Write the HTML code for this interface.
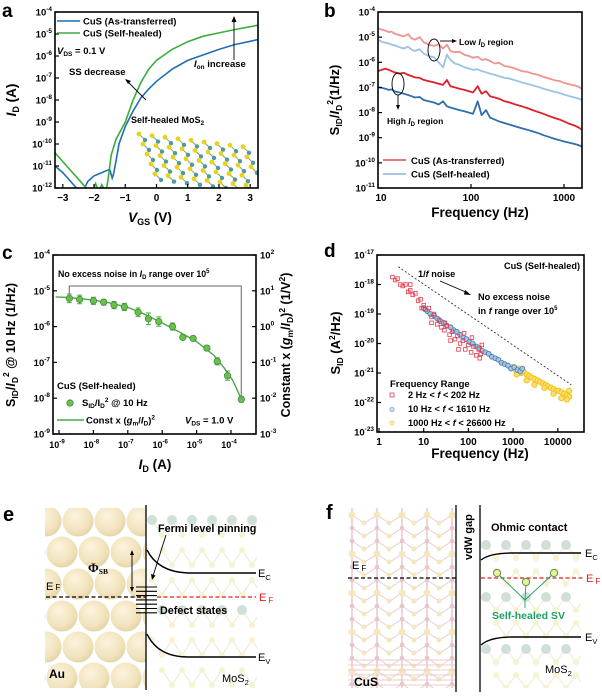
<!DOCTYPE html>
<html><head><meta charset="utf-8">
<style>
html,body{margin:0;padding:0;background:#fff;}
svg{display:block;font-family:"Liberation Sans",Arial,sans-serif;}
.t{font-weight:bold;fill:#000;}
</style></head>
<body>
<svg id="fig" width="602" height="698" viewBox="0 0 602 698" xmlns="http://www.w3.org/2000/svg">
<defs>
<clipPath id="clipA"><rect x="55" y="12" width="203" height="176"/></clipPath>
<clipPath id="clipB"><rect x="378" y="12" width="204" height="176"/></clipPath>
<clipPath id="clipC"><rect x="53" y="255" width="203" height="179"/></clipPath>
<clipPath id="clipD"><rect x="377" y="255" width="207" height="177"/></clipPath>
<clipPath id="clipAu"><rect x="45" y="508" width="101" height="180"/></clipPath>
<clipPath id="clipMe"><rect x="147" y="508" width="110" height="180"/></clipPath>
<clipPath id="clipCuS"><rect x="348" y="508" width="108" height="180"/></clipPath>
<clipPath id="clipMf"><rect x="481" y="508" width="100" height="180"/></clipPath>
<radialGradient id="auG" cx="0.4" cy="0.35" r="0.7"><stop offset="0" stop-color="#fbf1d6"/><stop offset="0.7" stop-color="#eedcab"/><stop offset="1" stop-color="#dcc68f"/></radialGradient>
</defs>

<text class="t" x="2" y="17" font-size="19">a</text>
<text class="t" x="324" y="17" font-size="19">b</text>
<text class="t" x="2" y="259" font-size="19">c</text>
<text class="t" x="324" y="257" font-size="19">d</text>
<text class="t" x="3" y="521" font-size="20">e</text>
<text class="t" x="326" y="519" font-size="20">f</text>

<g id="pa"></g>
<g id="pb"></g>
<g id="pc"></g>
<g id="pd"></g>
<g id="pe"></g>
<g id="pf"></g>
</svg>

<script>
// ---------- DATA ----------
const aBlueV = [-3.25,-3,-2.75,-2.5,-2.4,-2.2,-2.0,-1.75,-1.5,-1.42,-1.38,-1.3,-1.2,-1.0,-0.75,-0.5,-0.25,0,0.5,1,1.5,2,2.5,3,3.25];
const aBlueLogI = [-11,-11.3,-11.7,-12.1,-12.3,-11.7,-11.45,-11.3,-11.15,-11.55,-11.4,-10.8,-10.0,-9.2,-8.5,-7.9,-7.5,-7.15,-6.6,-6.2,-5.95,-5.7,-5.48,-5.33,-5.25];
const aGreenV = [-3.25,-3,-2.75,-2.5,-2.25,-2.1,-1.95,-1.85,-1.75,-1.62,-1.55,-1.45,-1.3,-1.0,-0.75,-0.5,-0.25,0,0.5,1,1.5,2,2.5,3,3.25];
const aGreenLogI = [-10.4,-10.8,-11.2,-11.6,-12.0,-12.3,-11.8,-12.2,-11.85,-12.2,-11.6,-10.5,-9.8,-9.0,-8.0,-7.2,-6.6,-6.2,-5.7,-5.35,-5.1,-4.95,-4.8,-4.67,-4.6];
const aXTicks = [-3,-2,-1,0,1,2,3];
const aYTicks = [-12,-11,-10,-9,-8,-7,-6,-5,-4];
const bFreq = [10,11,12,13,14,15,17,19,21,23,25,28,31,35,40,45,50,55,60,67,75,85,95,105,118,130,145,160,180,200,230,260,300,350,400,460,530,600,700,800,900,1000,1150,1300,1450,1550];
const bLowAsTr = [-4.65,-4.70,-4.74,-4.80,-4.78,-4.86,-4.92,-4.97,-4.88,-5.05,-5.10,-5.00,-5.20,-5.30,-5.35,-5.28,-5.45,-5.30,-5.55,-5.60,-5.58,-5.70,-5.75,-5.82,-5.78,-5.90,-5.88,-5.95,-6.05,-6.02,-6.15,-6.18,-6.25,-6.35,-6.38,-6.45,-6.50,-6.58,-6.65,-6.72,-6.75,-6.82,-6.88,-6.92,-6.98,-7.05];
const bLowHealed = [-5.10,-5.18,-5.22,-5.25,-5.30,-5.32,-5.40,-5.45,-5.38,-5.50,-5.55,-5.48,-5.65,-5.75,-5.80,-6.00,-6.20,-5.70,-5.90,-6.05,-6.10,-6.20,-6.25,-6.30,-6.28,-6.35,-6.40,-6.45,-6.50,-6.55,-6.62,-6.65,-6.72,-6.80,-6.85,-6.92,-6.98,-7.05,-7.12,-7.18,-7.22,-7.28,-7.35,-7.40,-7.45,-7.50];
const bHighAsTr = [-6.35,-6.30,-6.25,-6.30,-6.35,-6.40,-6.45,-6.42,-6.50,-6.55,-6.60,-6.62,-6.70,-6.75,-6.80,-6.85,-6.90,-6.70,-6.95,-7.00,-7.05,-7.10,-7.15,-7.20,-6.95,-7.25,-7.15,-7.35,-7.40,-7.45,-7.55,-7.60,-7.68,-7.75,-7.82,-7.90,-7.98,-8.05,-8.15,-8.22,-8.28,-8.35,-8.45,-8.52,-8.60,-8.68];
const bHighHealed = [-7.00,-7.02,-7.05,-7.10,-7.08,-7.15,-7.20,-7.25,-7.30,-7.35,-7.40,-7.38,-7.50,-7.55,-7.60,-7.68,-7.55,-7.75,-7.80,-7.85,-7.90,-7.95,-8.00,-8.05,-7.55,-8.10,-7.90,-8.20,-8.28,-8.35,-8.42,-8.48,-8.55,-8.62,-8.68,-8.75,-8.82,-8.90,-8.98,-9.05,-9.10,-9.15,-9.20,-9.25,-9.30,-9.35];
const bYTicks = [-11,-10,-9,-8,-7,-6,-5,-4];
const bXTicks = [10,100,1000];
const cLogI = [-8.7,-8.4,-8,-7.7,-7.4,-7.1,-6.7,-6.4,-6.1,-5.7,-5.4,-5.1,-4.7,-4.4,-4.1,-3.7];
const cLogS = [-5.21,-5.24,-5.28,-5.32,-5.4,-5.45,-5.6,-5.78,-5.86,-6.0,-6.3,-6.33,-6.6,-6.97,-7.37,-8.03];
const cErr = [0.12,0.12,0.1,0.08,0.1,0.1,0.12,0.16,0.13,0.1,0.06,0.06,0.07,0.1,0.13,0.08];
const cFitLogI = [-9.1,-8.7,-8,-7.5,-7,-6.5,-6,-5.5,-5,-4.5,-4.2,-3.95,-3.7];
const cFitLogS = [-5.17,-5.19,-5.26,-5.34,-5.46,-5.66,-5.9,-6.15,-6.42,-6.8,-7.15,-7.5,-8.02];
const cXTicks = [-9,-8,-7,-6,-5,-4];
const cYTicks = [-9,-8,-7,-6,-5,-4];
const cY2Ticks = [-3,-2,-1,0,1,2];
const dRedF = [2,2.3,2.6,3,3.4,3.9,4.5,5,5.7,6.5,7.5,8.5,10,11,13,15,17,20,22,25,29,33,38,43,50,57,65,75,85,100,115,130,150,170,190,200,15,30,60,120,180,5,9,40,80];
const dRedS = [-17.75,-17.85,-17.8,-18.0,-18.05,-18.0,-18.25,-18.2,-18.35,-18.3,-18.55,-18.5,-18.7,-18.85,-18.8,-19.1,-19.0,-19.35,-19.2,-19.45,-19.55,-19.4,-19.7,-19.6,-19.85,-19.75,-20.0,-19.9,-20.2,-20.05,-20.3,-20.1,-20.4,-20.2,-20.35,-20.05,-19.3,-19.3,-20.2,-19.8,-20.5,-18.0,-18.8,-19.9,-19.65];
const dBlueF = [10,12,14,17,20,24,28,33,40,47,55,65,77,90,105,125,150,175,205,240,285,335,400,470,550,650,770,900,1060,1250,1450,1610];
const dBlueS = [-18.8,-18.9,-19.0,-19.05,-19.15,-19.25,-19.3,-19.4,-19.45,-19.55,-19.6,-19.7,-19.8,-19.85,-19.95,-20.0,-20.1,-20.15,-20.25,-20.3,-20.35,-20.45,-20.5,-20.55,-20.65,-20.7,-20.75,-20.85,-20.8,-20.9,-20.95,-20.85];
const dYelF = [1000,1150,1300,1500,1700,2000,2300,2600,3000,3500,4000,4600,5300,6000,7000,8000,9200,10500,12000,14000,16000,18000,1200,2000,3000,5000,8000,12000,16000,18000];
const dYelS = [-20.8,-20.9,-20.85,-21.0,-20.95,-21.05,-21.1,-21.15,-21.2,-21.25,-21.3,-21.35,-21.4,-21.45,-21.5,-21.55,-21.6,-21.6,-21.65,-21.7,-21.75,-21.8,-21.05,-21.25,-21.4,-21.5,-21.7,-21.85,-21.9,-21.6];
const dRefF = [2.7,20000];
const dRefS = [-17.4,-21.4];
const dXTicks = [0,1,2,3,4];
const dYTicks = [-23,-22,-21,-20,-19,-18,-17];

const NS = 'http://www.w3.org/2000/svg';
function E(tag, at, parent){ const e=document.createElementNS(NS,tag); for(const k in at) e.setAttribute(k,at[k]); parent.appendChild(e); return e; }
function powLabel(x,y,base,exp,anchor,parent,fs){
  fs=fs||9.5;
  const t=E('text',{x:x,y:y,'text-anchor':anchor,'font-size':fs,'font-weight':'bold'},parent);
  const b=document.createElementNS(NS,'tspan'); b.textContent=base; t.appendChild(b);
  const s=document.createElementNS(NS,'tspan'); s.setAttribute('dy',-4.5); s.setAttribute('font-size',fs*0.68); s.textContent=exp; t.appendChild(s);
  return t;
}
function txt(x,y,s,parent,fs,anchor,fill){
  const t=E('text',{x:x,y:y,'font-size':fs||9.5,'font-weight':'bold','text-anchor':anchor||'start',fill:fill||'#000'},parent);
  t.innerHTML=s; return t;
}
function pathD(xs,ys,fx,fy){ let d=''; for(let i=0;i<xs.length;i++){ d+=(i?'L':'M')+fx(xs[i]).toFixed(1)+','+fy(ys[i]).toFixed(1);} return d; }
function frame(x,y,w,h,parent){ return E('rect',{x:x,y:y,width:w,height:h,fill:'none',stroke:'#000','stroke-width':1.6},parent); }

// ---------- panel a ----------
(function(){
  const g=document.getElementById('pa');
  const X0=55,X1=258,Y0=12,Y1=188;
  const xa=v=>X0+(v+3.25)/6.5*(X1-X0);
  const ya=l=>Y0+(-4-l)/8*(Y1-Y0);
  const clip=E('g',{'clip-path':'url(#clipA)'},g);
  const lat=E('g',{},clip);
  
  
  for(let r=0;r<5;r++){ for(let c=0;c<9;c++){
    const cx=139+c*13+r*4, cy=134+r*10+c*1.6;
    if(cx>252) continue;
    E('line',{x1:cx,y1:cy,x2:cx+6,y2:cy+6,stroke:'#8a9a5a','stroke-width':1},lat);
    E('circle',{cx:cx+6,cy:cy+6,r:2.2,fill:'#4f98a8'},lat);
    E('circle',{cx:cx,cy:cy,r:2.4,fill:'#e8d21c'},lat);
  }}
  const pb=E('path',{d:pathD(aBlueV,aBlueLogI,xa,ya),fill:'none',stroke:'#1f6fb4','stroke-width':1.6},clip);
  
  
  const pg=E('path',{d:pathD(aGreenV,aGreenLogI,xa,ya),fill:'none',stroke:'#3aad3a','stroke-width':1.6},clip);
  
  
  const fr=frame(X0,Y0,X1-X0,Y1-Y0,g);
  
  
  aXTicks.forEach(v=>{
    E('line',{x1:xa(v),y1:Y1,x2:xa(v),y2:Y1-4,stroke:'#000','stroke-width':1.2},g);
    const t=txt(xa(v),201,String(v).replace('-','\u2212'),g,10,'middle');
    
    
  });
  aYTicks.forEach(l=>{
    E('line',{x1:X0,y1:ya(l),x2:X0+4,y2:ya(l),stroke:'#000','stroke-width':1.2},g);
    const t=powLabel(X0-3,ya(l)+3.5,'10',String(l),'end',g);
    
    
  });
  E('line',{x1:57,y1:21,x2:80,y2:21,stroke:'#1f6fb4','stroke-width':1.6},g);
  E('line',{x1:57,y1:33,x2:80,y2:33,stroke:'#3aad3a','stroke-width':1.6},g);
  let t=txt(83,24.5,'CuS (As-transferred)',g,9.5);  
  t=txt(83,36.5,'CuS (Self-healed)',g,9.5);  
  t=txt(57,54,'<tspan font-style="italic">V</tspan><tspan font-size="6.5" dy="2">DS</tspan><tspan dy="-2"> = 0.1 V</tspan>',g,9.5);  
  t=txt(69,75,'SS decrease',g,9.5);  
  E('line',{x1:146,y1:100,x2:127,y2:81,stroke:'#000','stroke-width':0.9},g);
  E('path',{d:'M125,79 L131,81 L128,84 Z',fill:'#000'},g);
  t=txt(194,67,'<tspan font-style="italic">I</tspan><tspan font-size="6.5" dy="2">on</tspan><tspan dy="-2"> increase</tspan>',g,9.5);  
  E('line',{x1:234,y1:60,x2:234,y2:19,stroke:'#000','stroke-width':0.9},g);
  E('path',{d:'M234,16 L231.5,22 L236.5,22 Z',fill:'#000'},g);
  t=txt(131,123,'Self-healed MoS<tspan font-size="6.5" dy="2">2</tspan>',g,9);  
  t=txt(150,222,'<tspan font-style="italic">V</tspan><tspan font-size="9" dy="3">GS</tspan><tspan dy="-3"> (V)</tspan>',g,13.5,'middle');  
  t=txt(0,0,'<tspan font-style="italic">I</tspan><tspan font-size="9" dy="3">D</tspan><tspan dy="-3"> (A)</tspan>',g,13.5,'middle'); t.setAttribute('transform','translate(16,100) rotate(-90)');  
})();

// ---------- panel b ----------
(function(){
  const g=document.getElementById('pb');
  const X0=378,X1=582,Y0=12,Y1=188;
  const xb=f=>X0+(Math.log10(f)-1)*93;
  const yb=l=>Y0+(-4-l)/7*(Y1-Y0);
  const clip=E('g',{'clip-path':'url(#clipB)'},g);
  const ser=[[bLowAsTr,'#f2938f','series-low-id-as-transferred'],[bLowHealed,'#9dc3e3','series-low-id-self-healed'],[bHighAsTr,'#e0202a','series-high-id-as-transferred'],[bHighHealed,'#2e6fad','series-high-id-self-healed']];
  ser.forEach(s=>{
    const p=E('path',{d:pathD(bFreq,s[0],xb,yb),fill:'none',stroke:s[1],'stroke-width':1.8,'stroke-linejoin':'round'},clip);
    
    
  });
  const fr=frame(X0,Y0,X1-X0,Y1-Y0,g);
  
  
  bXTicks.forEach(f=>{
    E('line',{x1:xb(f),y1:Y1,x2:xb(f),y2:Y1-4,stroke:'#000','stroke-width':1.2},g);
    const t=txt(xb(f)+(f===10?3:0),201,String(f),g,10,'middle');
    
    
  });
  bYTicks.forEach(l=>{
    E('line',{x1:X0,y1:yb(l),x2:X0+4,y2:yb(l),stroke:'#000','stroke-width':1.2},g);
    const t=powLabel(X0-3,yb(l)+3.5,'10',String(l),'end',g);
    
    
  });
  E('ellipse',{cx:434,cy:50,rx:6,ry:11,fill:'none',stroke:'#000','stroke-width':0.9},g);
  E('line',{x1:440,y1:41,x2:454,y2:41,stroke:'#000','stroke-width':0.9},g);
  E('path',{d:'M457,41 L452,39 L452,43 Z',fill:'#000'},g);
  let t=txt(459,45,'Low <tspan font-style="italic">I</tspan><tspan font-size="6" dy="2">D</tspan><tspan dy="-2"> region</tspan>',g,8.5);  
  E('ellipse',{cx:398,cy:84,rx:6,ry:11,fill:'none',stroke:'#000','stroke-width':0.9},g);
  E('line',{x1:398,y1:95,x2:398,y2:106,stroke:'#000','stroke-width':0.9},g);
  E('path',{d:'M398,110 L396,105 L400,105 Z',fill:'#000'},g);
  t=txt(387,124,'High <tspan font-style="italic">I</tspan><tspan font-size="6" dy="2">D</tspan><tspan dy="-2"> region</tspan>',g,8.5);  
  E('line',{x1:383,y1:160,x2:406,y2:160,stroke:'#e0202a','stroke-width':1.3},g);
  E('line',{x1:383,y1:174,x2:406,y2:174,stroke:'#6fa6d6','stroke-width':1.3},g);
  t=txt(411,164,'CuS (As-transferred)',g,9.5);  
  t=txt(411,177.5,'CuS (Self-healed)',g,9.5);  
  t=txt(480,217,'Frequency (Hz)',g,13.5,'middle');  
  t=txt(0,0,'S<tspan font-size="8.5" dy="3">ID</tspan><tspan dy="-3">/</tspan><tspan font-style="italic">I</tspan><tspan font-size="8.5" dy="3">D</tspan><tspan font-size="8.5" dy="-9">2</tspan><tspan dy="6">(1/Hz)</tspan>',g,13,'middle'); t.setAttribute('transform','translate(339,100) rotate(-90)');  
})();

// ---------- panel c ----------
(function(){
  const g=document.getElementById('pc');
  const X0=53,X1=256,Y0=255,Y1=434;
  const xc=l=>59+(l+9)*34.4;
  const yc=l=>Y0+(-4-l)/5*(Y1-Y0);
  const clip=E('g',{'clip-path':'url(#clipC)'},g);
  const br=E('path',{d:'M'+xc(cLogI[0])+','+yc(cLogS[0])+' V286 H'+xc(cLogI[cLogI.length-1])+' V'+yc(cLogS[cLogS.length-1]),fill:'none',stroke:'#888','stroke-width':1.3},g);
  
  
  const fit=E('path',{d:pathD(cFitLogI,cFitLogS,xc,yc),fill:'none',stroke:'#4aa84a','stroke-width':1.4},clip);
  
  
  for(let i=0;i<cLogI.length;i++){
    const x=xc(cLogI[i]), y=yc(cLogS[i]), e1=yc(cLogS[i]+cErr[i]), e2=yc(cLogS[i]-cErr[i]);
    const eb=E('path',{d:`M${x},${e1}V${e2}M${x-2.5},${e1}H${x+2.5}M${x-2.5},${e2}H${x+2.5}`,stroke:'#4aa84a','stroke-width':1},clip);
    
    
    const c=E('circle',{cx:x,cy:y,r:3.2,fill:'#6cc04a',stroke:'#3b8f3b','stroke-width':0.8},clip);
    
    
  }
  const fr=frame(X0,Y0,X1-X0,Y1-Y0,g);
  
  
  cXTicks.forEach(l=>{
    E('line',{x1:xc(l),y1:Y1,x2:xc(l),y2:Y1-4,stroke:'#000','stroke-width':1.2},g);
    const t=powLabel(xc(l)-2,448,'10',String(l),'middle',g,9);
    
    
  });
  cYTicks.forEach(l=>{
    E('line',{x1:X0,y1:yc(l),x2:X0+4,y2:yc(l),stroke:'#000','stroke-width':1.2},g);
    const t=powLabel(X0-3,yc(l)+3.5,'10',String(l),'end',g);
    
    
  });
  cY2Ticks.forEach(l=>{
    const y=Y0+(2-l)/5*(Y1-Y0);
    E('line',{x1:X1,y1:y,x2:X1-4,y2:y,stroke:'#000','stroke-width':1.2},g);
    const t=powLabel(X1+4,y+3.5,'10',String(l),'start',g);
    
    
  });
  let t=txt(58,277,'No excess noise in <tspan font-style="italic">I</tspan><tspan font-size="6" dy="2">D</tspan><tspan dy="-2"> range over 10</tspan><tspan font-size="6" dy="-4">5</tspan>',g,8.8);  
  t=txt(57,389,'CuS (Self-healed)',g,9.5);  
  E('circle',{cx:70,cy:403,r:3.2,fill:'#6cc04a',stroke:'#3b8f3b','stroke-width':0.8},g);
  t=txt(82,406,'S<tspan font-size="6.5" dy="2">ID</tspan><tspan dy="-2">/I</tspan><tspan font-size="6.5" dy="2">D</tspan><tspan font-size="6.5" dy="-6">2</tspan><tspan dy="4"> @ 10 Hz</tspan>',g,9.5);  
  E('line',{x1:57,y1:420,x2:84,y2:420,stroke:'#4aa84a','stroke-width':1.4},g);
  t=txt(86,423.5,'Const x (<tspan font-style="italic">g</tspan><tspan font-size="6.5" dy="2">m</tspan><tspan dy="-2">/</tspan><tspan font-style="italic">I</tspan><tspan font-size="6.5" dy="2">D</tspan><tspan dy="-2">)</tspan><tspan font-size="6.5" dy="-4">2</tspan>',g,9.5);  
  t=txt(185,423.5,'<tspan font-style="italic">V</tspan><tspan font-size="6.5" dy="2">DS</tspan><tspan dy="-2"> = 1.0 V</tspan>',g,9.5);  
  t=txt(155,469,'<tspan font-style="italic">I</tspan><tspan font-size="9" dy="3">D</tspan><tspan dy="-3"> (A)</tspan>',g,13.5,'middle');  
  t=txt(0,0,'S<tspan font-size="8.5" dy="3">ID</tspan><tspan dy="-3">/</tspan><tspan font-style="italic">I</tspan><tspan font-size="8.5" dy="3">D</tspan><tspan font-size="8.5" dy="-9">2</tspan><tspan dy="6"> @ 10 Hz (1/Hz)</tspan>',g,12.5,'middle'); t.setAttribute('transform','translate(15,345) rotate(-90)');  
  t=txt(0,0,'Constant x (<tspan font-style="italic">g</tspan><tspan font-size="8.5" dy="3">m</tspan><tspan dy="-3">/</tspan><tspan font-style="italic">I</tspan><tspan font-size="8.5" dy="3">D</tspan><tspan dy="-3">)</tspan><tspan font-size="8.5" dy="-5">2</tspan><tspan dy="5"> (1/V</tspan><tspan font-size="8.5" dy="-5">2</tspan><tspan dy="5">)</tspan>',g,12.5,'middle'); t.setAttribute('transform','translate(290,345) rotate(-90)');  
})();

// ---------- panel d ----------
(function(){
  const g=document.getElementById('pd');
  const X0=377,X1=584,Y0=255,Y1=432;
  const xd=f=>379+Math.log10(f)*44.7;
  const yd=l=>Y0+(-17-l)/6*(Y1-Y0);
  const clip=E('g',{'clip-path':'url(#clipD)'},g);
  const ref=E('line',{x1:xd(dRefF[0]),y1:yd(dRefS[0]),x2:xd(dRefF[1]),y2:yd(dRefS[1]),stroke:'#333','stroke-width':0.9,'stroke-dasharray':'2,2'},clip);
  
  
  for(let i=0;i<dYelF.length;i++){
    const m=E('circle',{cx:xd(dYelF[i]),cy:yd(dYelS[i]),r:2.6,fill:'#fbe07a',stroke:'#f3c21a','stroke-width':1},clip);
    
    
  }
  for(let i=0;i<dBlueF.length;i++){
    const m=E('circle',{cx:xd(dBlueF[i]),cy:yd(dBlueS[i]),r:2.4,fill:'#a9c4de',stroke:'#4a7fb5','stroke-width':0.9},clip);
    
    
  }
  for(let i=0;i<dRedF.length;i++){
    const x=xd(dRedF[i]), y=yd(dRedS[i]);
    const m=E('rect',{x:x-1.8,y:y-1.8,width:3.6,height:3.6,fill:'none',stroke:'#e8384a','stroke-width':0.8},clip);
    
    
  }
  const fr=frame(X0,Y0,X1-X0,Y1-Y0,g);
  
  
  dXTicks.forEach(p=>{
    const f=Math.pow(10,p);
    E('line',{x1:xd(f),y1:Y1,x2:xd(f),y2:Y1-4,stroke:'#000','stroke-width':1.2},g);
    const t=txt(xd(f),445,String(f),g,10,'middle');
    
    
  });
  dYTicks.forEach(l=>{
    E('line',{x1:X0,y1:yd(l),x2:X0+4,y2:yd(l),stroke:'#000','stroke-width':1.2},g);
    const t=powLabel(X0-3,yd(l)+3.5,'10',String(l),'end',g);
    
    
  });
  let t=txt(580,269,'CuS (Self-healed)',g,9.2,'end');  
  t=txt(418,277,'1/<tspan font-style="italic">f</tspan> noise',g,9.2);  
  E('line',{x1:440,y1:281,x2:468,y2:293,stroke:'#000','stroke-width':0.9},g);
  E('path',{d:'M471,295 L465,290 L464,294.5 Z',fill:'#000'},g);
  t=txt(478,300,'No excess noise',g,9.2);  
  t=txt(478,314,'in <tspan font-style="italic">f</tspan> range over 10<tspan font-size="6" dy="-4">5</tspan>',g,9.2);  
  t=txt(390,387,'Frequency Range',g,9.5);  
  E('rect',{x:390,y:393,width:4,height:4,fill:'none',stroke:'#e8384a','stroke-width':0.8},g);
  E('circle',{cx:392,cy:409.5,r:2.2,fill:'#c9dbec',stroke:'#8fb3d6','stroke-width':0.8},g);
  E('circle',{cx:392,cy:423,r:2.2,fill:'#fbeaa6',stroke:'#f3dc80','stroke-width':0.8},g);
  t=txt(408,398,'2 Hz &lt; <tspan font-style="italic">f</tspan> &lt; 202 Hz',g,9.2);  
  t=txt(408,412,'10 Hz &lt; <tspan font-style="italic">f</tspan> &lt; 1610 Hz',g,9.2);  
  t=txt(408,426,'1000 Hz &lt; <tspan font-style="italic">f</tspan> &lt; 26600 Hz',g,9.2);  
  t=txt(480,458,'Frequency (Hz)',g,13.5,'middle');  
  t=txt(0,0,'S<tspan font-size="8.5" dy="3">ID</tspan><tspan dy="-3"> (A</tspan><tspan font-size="8.5" dy="-5">2</tspan><tspan dy="5">/Hz)</tspan>',g,13,'middle'); t.setAttribute('transform','translate(340,343) rotate(-90)');  
})();

// ---------- panel e ----------
(function(){
  const g=document.getElementById('pe');
  const au=E('g',{'clip-path':'url(#clipAu)',opacity:0.8},g);
  
  
  const rows=[521,552,584,616,647,678];
  rows.forEach((y,ri)=>{ for(let k=-1;k<4;k++){ const x=(ri%2? 62:46)+k*32; E('circle',{cx:x,cy:y,r:15.5,fill:'url(#auG)'},au);} });
  const ms=E('g',{'clip-path':'url(#clipMe)',opacity:0.4},g);
  
  
  for(let r=0;r<6;r++){ for(let k=0;k<6;k++){
    const x=152+k*20+(r%2)*10, y=520+r*30;
    E('line',{x1:x,y1:y,x2:x+10,y2:y+15,stroke:'#d9d3a0','stroke-width':1.2},ms);
    E('line',{x1:x+20,y1:y,x2:x+10,y2:y+15,stroke:'#d9d3a0','stroke-width':1.2},ms);
    E('circle',{cx:x,cy:y,r:(r%3===0)?5:3,fill:(r%3===0)?'#8fb39a':'#ecdf88'},ms);
    E('circle',{cx:x+10,cy:y+15,r:3,fill:'#ecdf88'},ms);
  }}
  E('line',{x1:146,y1:505,x2:146,y2:690,stroke:'#000','stroke-width':1.3},g);
  const ec=E('path',{d:'M147,550 Q158,572 188,573 L256,573',fill:'none',stroke:'#000','stroke-width':1.4},g);
  
  
  const ev=E('path',{d:'M147,634 Q158,657 188,657 L256,657',fill:'none',stroke:'#000','stroke-width':1.4},g);
  
  
  E('line',{x1:46,y1:597,x2:146,y2:597,stroke:'#000','stroke-width':1.2,'stroke-dasharray':'4,2.5'},g);
  E('line',{x1:157,y1:597,x2:256,y2:597,stroke:'#e02020','stroke-width':1.2,'stroke-dasharray':'4,2.5'},g);
  for(let i=0;i<7;i++){ E('line',{x1:136,y1:587+i*4.3,x2:157,y2:587+i*4.3,stroke:'#000','stroke-width':1.1},g); }
  E('line',{x1:132,y1:553,x2:132,y2:589,stroke:'#000','stroke-width':0.9},g);
  E('path',{d:'M132,550 L130,555 L134,555 Z M132,592 L130,587 L134,587 Z',fill:'#000'},g);
  E('line',{x1:166,y1:535,x2:153,y2:576,stroke:'#000','stroke-width':0.9},g);
  E('path',{d:'M152,580 L151,574 L155.5,575.5 Z',fill:'#000'},g);
  let t=txt(88,572,'Φ<tspan font-size="7.5" dy="2" font-family="Liberation Serif">SB</tspan>',g,13); t.setAttribute('font-family','Liberation Serif');  
  t=txt(46,590,'E<tspan font-size="8" dx="2">F</tspan>',g,11,'start'); t.setAttribute('font-weight','normal');  
  t=txt(158,532,'Fermi level pinning',g,10.8);  
  t=txt(160,614,'Defect states',g,10.8);  
  t=txt(258,577,'E<tspan font-size="7.5" dy="3">C</tspan>',g,11); t.setAttribute('font-weight','normal');  
  t=txt(259,601,'E<tspan font-size="8" dy="2" dx="2">F</tspan>',g,11,'start','#e02020'); t.setAttribute('font-weight','normal');  
  t=txt(258,661,'E<tspan font-size="7.5" dy="3">V</tspan>',g,11); t.setAttribute('font-weight','normal');  
  t=txt(49,678,'Au',g,12);  
  t=txt(222,682,'MoS<tspan font-size="7.5" dy="3">2</tspan>',g,11); t.setAttribute('font-weight','normal');  
})();

// ---------- panel f ----------
(function(){
  const g=document.getElementById('pf');
  const cu=E('g',{'clip-path':'url(#clipCuS)',opacity:0.6},g);
  
  
  for(let c=0;c<5;c++){ const x=352+c*25;
    E('line',{x1:x,y1:508,x2:x,y2:690,stroke:'#d9a3a8','stroke-width':1.5},cu);
    for(let r=0;r<14;r++){ const y=515+r*13;
      E('line',{x1:x,y1:y,x2:x+12,y2:y+8,stroke:'#dcaab0','stroke-width':1},cu);
      E('line',{x1:x+25,y1:y,x2:x+13,y2:y+8,stroke:'#dcaab0','stroke-width':1},cu);
      E('circle',{cx:x,cy:y,r:(r%3===0)?3.5:2.3,fill:(r%3===0)?'#f0d890':'#d8a0a8'},cu);
      E('circle',{cx:x+12,cy:y+8,r:2.5,fill:'#f0d890'},cu);
    }}
  for(let i=0;i<6;i++){ E('line',{x1:348,y1:660+i*5,x2:456,y2:660+i*5,stroke:'#dcaab0','stroke-width':1},cu); }
  const ms=E('g',{'clip-path':'url(#clipMf)',opacity:0.4},g);
  
  
  for(let r=0;r<6;r++){ for(let k=0;k<6;k++){
    const x=486+k*20+(r%2)*10, y=545+r*26;
    E('line',{x1:x,y1:y,x2:x+10,y2:y+13,stroke:'#d9d3a0','stroke-width':1.2},ms);
    E('line',{x1:x+20,y1:y,x2:x+10,y2:y+13,stroke:'#d9d3a0','stroke-width':1.2},ms);
    E('circle',{cx:x,cy:y,r:(r%2===0)?5:3,fill:(r%2===0)?'#8fb39a':'#ecdf88'},ms);
    E('circle',{cx:x+10,cy:y+13,r:3,fill:'#ecdf88'},ms);
  }}
  E('line',{x1:456,y1:505,x2:456,y2:692,stroke:'#000','stroke-width':1.3},g);
  E('line',{x1:480,y1:505,x2:480,y2:692,stroke:'#000','stroke-width':1.3},g);
  E('line',{x1:348,y1:578,x2:456,y2:578,stroke:'#000','stroke-width':1.2,'stroke-dasharray':'4,2.5'},g);
  E('line',{x1:481,y1:578,x2:585,y2:578,stroke:'#e02020','stroke-width':1.2,'stroke-dasharray':'4,2.5'},g);
  const ec=E('path',{d:'M481,560 Q490,553 512,553 L581,553',fill:'none',stroke:'#000','stroke-width':1.4},g);
  
  
  const ev=E('path',{d:'M481,645 Q490,637 512,637 L581,637',fill:'none',stroke:'#000','stroke-width':1.4},g);
  
  
  E('path',{d:'M497,573 L525,600 L554,573 M526,582 L525,600 L525,608',fill:'none',stroke:'#1aa060','stroke-width':0.9},g);
  [[497,573],[526,582],[554,573]].forEach(p=>{
    const c=E('circle',{cx:p[0],cy:p[1],r:3.6,fill:'#f3eba0',stroke:'#4a9a4a','stroke-width':1},g);
    
    
  });
  let t=txt(0,0,'vdW gap',g,11); t.setAttribute('transform','translate(472,560) rotate(-90)');  
  t=txt(491,531,'Ohmic contact',g,11);  
  t=txt(352,569,'E<tspan font-size="8" dy="2" dx="2">F</tspan>',g,11); t.setAttribute('font-weight','normal');  
  t=txt(585,557,'E<tspan font-size="7.5" dy="3">C</tspan>',g,11); t.setAttribute('font-weight','normal');  
  t=txt(586,582,'E<tspan font-size="8" dy="2" dx="2">F</tspan>',g,11,'start','#e02020'); t.setAttribute('font-weight','normal');  
  t=txt(585,641,'E<tspan font-size="7.5" dy="3">V</tspan>',g,11); t.setAttribute('font-weight','normal');  
  t=txt(492,619,'Self-healed SV',g,10.5,'start','#1aa060');  
  t=txt(545,673,'MoS<tspan font-size="7.5" dy="3">2</tspan>',g,11); t.setAttribute('font-weight','normal');  
  t=txt(354,686,'CuS',g,12);  
})();
</script>
</body></html>
